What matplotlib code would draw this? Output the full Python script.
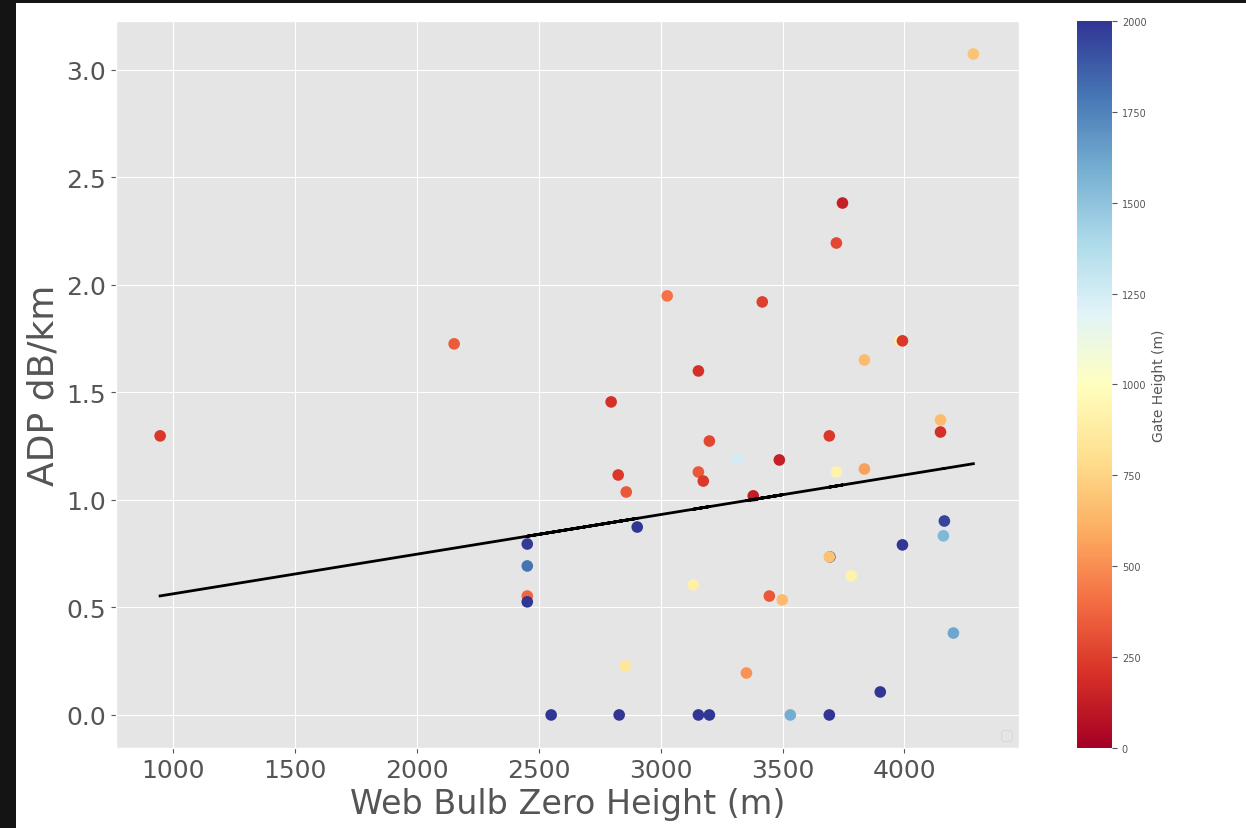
import numpy as np
import matplotlib
matplotlib.use("Agg")
import matplotlib.pyplot as plt
from matplotlib.patches import Rectangle

plt.style.use("ggplot")

# Web bulb zero height (m)
wbz = [947, 2153, 2797, 2826, 2859, 2904, 2453, 2453, 2453, 2453,
       2551, 2855, 2830, 3027, 3155, 3155, 3175, 3200, 3134, 3155,
       3200, 3315, 3417, 3380, 3487, 3446, 3499, 3352, 3532, 3692,
       3692, 3721, 3746, 3721, 3694, 3692, 3782, 3836, 3836, 3901,
       3980, 3992, 3992, 4148, 4148, 4164, 4160, 4201, 4283]
# ADP dB/km
adp = [1.298, 1.726, 1.456, 1.116, 1.037, 0.874, 0.795, 0.693, 0.553, 0.526,
       0.0, 0.228, 0.0, 1.949, 1.600, 1.130, 1.088, 1.274, 0.605, 0.0,
       0.0, 1.191, 1.921, 1.019, 1.186, 0.553, 0.535, 0.195, 0.0, 0.0,
       1.298, 2.195, 2.381, 1.130, 0.735, 0.735, 0.647, 1.651, 1.144, 0.107,
       1.740, 1.740, 0.791, 1.372, 1.316, 0.902, 0.833, 0.381, 3.074]
# Gate height (m)
gate = [220, 350, 200, 230, 330, 2000, 1980, 1800, 380, 2000,
        2000, 850, 2000, 420, 200, 330, 230, 280, 900, 2000,
        2000, 1250, 250, 120, 130, 330, 650, 520, 1600, 2000,
        230, 280, 130, 920, 2000, 680, 920, 650, 560, 2000,
        900, 220, 2000, 650, 200, 1950, 1550, 1620, 680]

x = np.array(wbz, dtype=float)
y = np.array(adp, dtype=float)
c = np.array(gate, dtype=float)

fig = plt.figure(figsize=(12.46, 8.29), dpi=100)
fig.patch.set_facecolor("white")

ax = fig.add_axes([0.0931, 0.0965, 0.7247, 0.877])
sc = ax.scatter(x, y, c=c, cmap="RdYlBu", vmin=0, vmax=2000, s=70,
                edgecolors="none", zorder=3)
m, b = np.polyfit(x, y, 1)
ax.plot(x, m * x + b, color="black", linewidth=2, zorder=4)

ax.set_xlim(766, 4470)
ax.set_xlabel("Web Bulb Zero Height (m)", fontsize=24, color="#555555")
ax.set_ylabel("ADP dB/km", fontsize=26, color="#555555")
ax.tick_params(axis="both", labelsize=18, labelcolor="#555555")
ax.set_xticks([1000, 1500, 2000, 2500, 3000, 3500, 4000])
ax.set_yticks([0.0, 0.5, 1.0, 1.5, 2.0, 2.5, 3.0])
ax.legend(handles=[], loc="lower right")

cax = fig.add_axes([0.8644, 0.0965, 0.0281, 0.877])
cb = fig.colorbar(sc, cax=cax)
cb.set_label("Gate Height (m)", fontsize=10, color="#555555")
cb.set_ticks([0, 250, 500, 750, 1000, 1250, 1500, 1750, 2000])
cax.tick_params(labelsize=7, labelcolor="#555555")
cb.outline.set_visible(False)

# dark framing strips seen around the screenshot
fig.patches.append(Rectangle((0, 0), 16 / 1246, 1, transform=fig.transFigure,
                             facecolor="#141414", edgecolor="none", zorder=10))
fig.patches.append(Rectangle((0, 1 - 4 / 829), 1, 4 / 829, transform=fig.transFigure,
                             facecolor="#141414", edgecolor="none", zorder=10))

fig.savefig("out.png", dpi=100, facecolor=fig.get_facecolor())
